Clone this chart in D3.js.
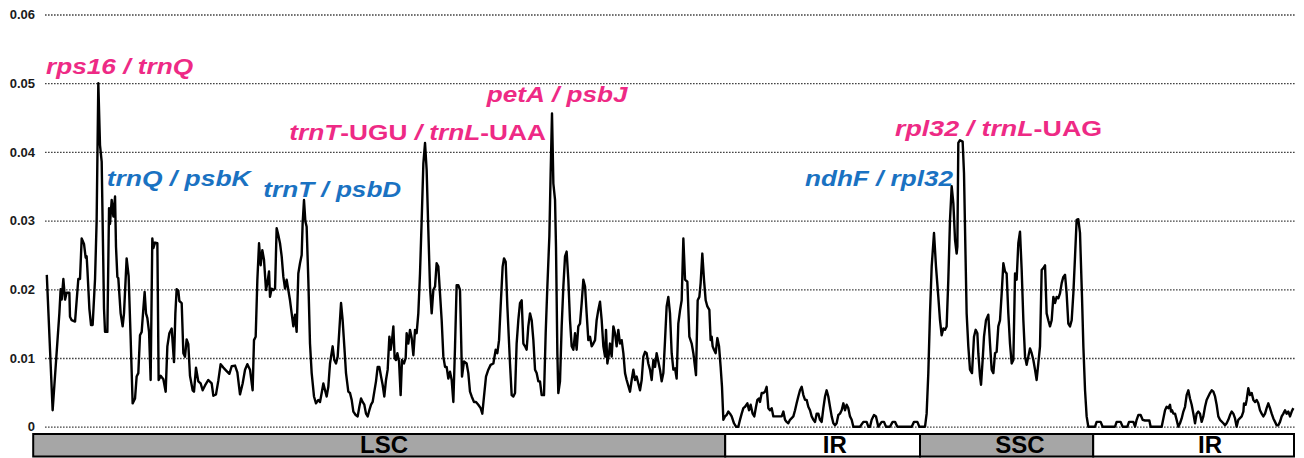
<!DOCTYPE html>
<html>
<head>
<meta charset="utf-8">
<script src="https://cdn.jsdelivr.net/npm/d3@7"></script>
<style>
  body { margin: 0; background: #fff; }
  text { font-family: "Liberation Sans", Arial, sans-serif; font-weight: bold; }
</style>
</head>
<body>
<div id="chart"></div>
<script>
// sliding window nucleotide diversity (Pi), [position kb, Pi]
var lscPi = [
  [0.1,.0221],[0.83,.0024],[1.67,.0165],[1.83,.02],[1.96,.0185],[2.17,.0215],[2.38,.0185],[2.58,.0195],[2.92,.0195],[3.0,.016],[3.21,.0155],[3.63,.0153],[4.04,.0215],[4.25,.0215],[4.46,.0274],[4.75,.0266],[4.96,.0246],[5.08,.0248],[5.17,.023],[5.42,.0172],[5.63,.0148],[5.83,.0148],[6.13,.0215],[6.33,.03],[6.54,.05],[6.75,.041],[6.96,.0386],[7.25,.0172],[7.38,.0138],[7.67,.0138],[7.88,.0318],[8.0,.0295],[8.21,.033],[8.42,.0306],[8.63,.0335],[8.75,.0262],[8.92,.0218],[9.04,.0216],[9.33,.0165],[9.58,.0146],[9.75,.0165],[10.08,.0245],[10.33,.0219],[10.58,.0129],[10.83,.0034],[11.13,.0041],[11.33,.0073],[11.54,.0078],[11.75,.0133],[11.96,.0138],[12.17,.0172],[12.33,.0196],[12.5,.0165],[12.67,.0158],[12.88,.0138],[13.08,.0068],[13.29,.0274],[13.42,.026],[13.63,.0268],[13.92,.0267],[14.08,.0068],[14.33,.0074],[14.67,.0069],[14.96,.0051],[15.17,.0117],[15.42,.0136],[15.71,.0143],[16.0,.0094],[16.17,.0165],[16.33,.02],[16.54,.0198],[16.67,.0183],[16.96,.018],[17.17,.0107],[17.38,.0102],[17.58,.0127],[17.79,.012],[18.0,.0074],[18.33,.0053],[18.5,.0051],[18.75,.0086],[19.04,.0066],[19.33,.0063],[19.58,.0053],[19.88,.006],[20.29,.0068],[20.71,.0063],[20.92,.0045],[21.25,.0047],[21.54,.0067],[21.83,.0091],[22.17,.0086],[22.58,.0081],[22.92,.0077],[23.21,.0088],[23.63,.0089],[23.92,.0079],[24.25,.0047],[24.58,.0063],[24.88,.0083],[25.17,.0091],[25.5,.0083],
  [25.83,.0053],[26.0,.0126],[26.21,.0131],[26.42,.0214],[26.63,.0267],[26.83,.0235],[27.04,.0257],[27.25,.0243],[27.5,.0199],[27.67,.0209],[27.88,.0226],[28.0,.0189],[28.21,.0201],[28.42,.0199],[28.63,.0201],[28.83,.0289],[29.04,.0279],[29.25,.0267],[29.46,.0248],[29.67,.0218],[29.88,.0201],[30.08,.0214],[30.29,.0199],[30.5,.0184],[30.71,.0165],[30.92,.0146],[31.13,.0163],[31.33,.0138],[31.54,.0223],[31.75,.0238],[31.96,.025],[32.08,.0296],[32.25,.033],[32.42,.0299],[32.58,.0291],[32.79,.0214],[33.0,.0121],[33.21,.0078],[33.5,.0044],[33.75,.0034],[34.04,.0039],[34.25,.0036],[34.46,.0049],[34.67,.0063],[34.88,.0053],[35.08,.0044],[35.29,.0058],[35.5,.0092],[35.83,.0117],[36.04,.0097],[36.25,.0092],[36.46,.0102],[36.67,.0141],[36.88,.018],[37.08,.0155],[37.29,.0117],[37.5,.0078],[37.79,.0051],[38.0,.0049],[38.21,.0039],[38.42,.0022],[38.71,.0017],[38.96,.0015],[39.17,.0029],[39.38,.0041],[39.58,.0036],[39.79,.0032],[40.0,.0019],[40.21,.0015],[40.42,.0024],[40.63,.0032],[40.83,.0036],[41.04,.0051],[41.25,.0066],[41.46,.0087],[41.67,.0087],[41.88,.0073],[42.08,.0061],[42.29,.0044],[42.5,.0068],[42.71,.0083],[42.92,.0131],[43.08,.0112],[43.25,.0126],[43.42,.0146],[43.58,.01],[43.75,.0097],[43.92,.0107],[44.13,.0095],[44.33,.0046],[44.5,.0097],[44.75,.0092],[44.96,.01],[45.08,.0136],[45.29,.0121],[45.5,.0141],[45.71,.0129],[45.92,.0104],[46.13,.0141],[46.33,.0136],[46.54,.0165],[46.75,.0223],[46.96,.0301],[47.17,.0383],[47.38,.0413],[47.58,.0374],[47.79,.0286],[48.0,.0204],[48.21,.0165],[48.42,.0199],[48.63,.0204],[48.83,.0238],[49.04,.0233],[49.25,.0194],[49.46,.0155],[49.67,.0102],[49.88,.0087],[50.08,.0087],[50.29,.007],[50.5,.008],[50.71,.0068],[50.92,.0036],[51.13,.0117],[51.33,.0206],[51.54,.0206],[51.75,.0199],
  [52.0,.0073],[52.25,.0095],[52.58,.0092],[52.79,.0078],[53.0,.0051],[53.21,.0044],[53.5,.0036],[53.75,.0036],[54.04,.0032],[54.33,.0027],[54.54,.0019],[54.75,.0044],[55.0,.0073],[55.29,.0083],[55.58,.009],[55.92,.0092],[56.21,.0112],[56.42,.0107],[56.63,.0126],[56.83,.0175],[57.08,.0233],[57.25,.0245],[57.46,.024],[57.67,.0175],[58.0,.0092],[58.21,.0046],[58.42,.0044],[58.63,.0049],[58.83,.0121],[59.04,.0155],[59.25,.018],[59.46,.0184],[59.67,.0121],[59.88,.0117],[60.08,.0112],[60.29,.0146],[60.5,.0165],[60.71,.0155],[60.92,.0126],[61.13,.0083],[61.33,.0078],[61.54,.0066],[61.75,.0066],[61.96,.0046],[62.25,.0046],[62.46,.0136],[62.67,.0204],[62.92,.0277],[63.08,.0369],[63.25,.0456],[63.42,.0354],[63.63,.033],[63.75,.0262],[63.92,.0107],[64.04,.0049],[64.25,.0066],[64.46,.0146],[64.67,.0204],[64.88,.0248],[65.08,.0255],[65.29,.0214],[65.5,.0155],[65.71,.0117],[65.92,.0112],[66.13,.0136],[66.33,.0112],[66.54,.0146],[66.75,.015],[66.96,.018],[67.17,.0214],[67.38,.0204],[67.58,.0165],[67.79,.0126],[68.0,.0131],[68.21,.0117],[68.42,.0121],[68.63,.0126],[68.83,.0155],[69.04,.017],[69.25,.0182],[69.46,.0155],[69.67,.0117],[69.88,.0102],[70.0,.0141],[70.17,.0092],[70.38,.0107],[70.5,.0121],[70.71,.0102],[70.92,.0146],[71.13,.0136],[71.33,.0117],[71.54,.0141],[71.75,.0121],[71.96,.0126],[72.17,.0107],[72.38,.0078],[72.58,.0068],[73.0,.0051],[73.21,.0068],[73.42,.0083],[73.63,.0068],[73.83,.0073],[74.04,.0063],[74.25,.0053],[74.46,.0068],[74.67,.0102],[74.88,.0109],[75.08,.0107],[75.29,.0092],[75.5,.0083],[75.71,.0068],[75.92,.0097],[76.13,.0087],[76.33,.0107],[76.54,.0095],[76.75,.0083],[76.96,.0066],[77.17,.0078],[77.38,.0126],[77.58,.0175],[77.79,.0189],[78.0,.0165],
  [78.21,.0107],[78.42,.0083],[78.63,.0085],[78.83,.007],[79.04,.015],[79.25,.0169],[79.46,.0184],[79.67,.0274],[79.88,.0214],[80.17,.0211],[80.42,.0131],[80.71,.0121],[80.92,.0107],[81.25,.0075],[81.46,.0184],[81.67,.0189],[81.83,.0209],[82.04,.0252],[82.25,.0214],[82.46,.0184],[82.67,.0175],[82.92,.017],[83.08,.0126],[83.21,.0131],[83.33,.0117],[83.5,.0112],[83.71,.0107],[83.92,.0129],[84.13,.0117],[84.33,.0087],[84.5,.0058],[84.67,.001]
];
var irAPi = [
  [84.88,.0015],[85.08,.0017],[85.29,.0022],[85.5,.0019],[85.71,.0015],[86.0,.0005],[86.25,0],[86.54,0],[86.75,.001],[86.96,.0019],[87.17,.0027],[87.38,.0029],[87.67,.0034],[87.88,.0024],[88.08,.0032],[88.33,.0019],[88.54,.0015],[88.75,.0029],[88.92,.0039],[89.13,.0041],[89.25,.0036],[89.46,.0049],[89.67,.0049],[89.88,.0051],[90.08,.0058],[90.29,.0027],[90.5,.0024],[90.71,.0027],[90.92,.0015],[91.54,.0015],[91.96,.0015],[92.17,.0022],[92.38,.001],[92.58,.0007],[92.79,.0005],[93.0,.001],[93.42,.0015],[93.63,.0024],[93.83,.0034],[94.04,.0044],[94.25,.0053],[94.46,.0058],[94.67,.0046],[94.88,.0039],[95.08,.0039],[95.29,.0029],[95.5,.0024],[95.71,.0015],[95.92,.001],[96.13,.0007],[96.33,.0019],[96.54,.0019],[96.75,.001],[96.96,.0007],[97.17,.0027],[97.38,.0044],[97.58,.0053],[97.79,.0044],[98.0,.0029],[98.21,.0015],[98.42,.0005],[98.63,.0002],[98.83,.0005],[99.04,.0017],[99.25,.0019],[99.46,.0024],[99.67,.0034],[99.88,.0024],[100.08,.0032],[100.29,.0027],[100.5,.0015],[100.71,.001],[100.92,0],[101.75,0],[102.17,.0007],[102.58,.0007],[102.79,0],[103.0,0],[103.21,.001],[103.5,.0017],[103.75,.0015],[104.04,0],[104.46,.0007],[104.75,.0007],[105.0,0],[105.5,0],[105.83,.0007],[106.13,.0007],[106.42,0],[108.21,0],[108.5,.0007],[108.92,.0007],[109.17,0],[109.88,0]
];
var sscPi = [
  [110.08,.0019],[110.29,.0078],[110.5,.0165],[110.71,.0233],[111.0,.0282],[111.25,.0233],[111.54,.0189],[111.75,.0155],[111.96,.0133],[112.17,.0143],[112.38,.0141],[112.58,.0146],[112.79,.0214],[113.0,.0301],[113.21,.035],[113.42,.0325],[113.63,.0272],[113.83,.0252],[113.92,.0262],[114.04,.0413],[114.25,.0417],[114.58,.0415],[114.75,.0369],[114.92,.0262],[115.08,.0165],[115.29,.0117],[115.5,.0083],[115.75,.0078],[116.0,.0131],[116.21,.0141],[116.42,.0136],[116.54,.0107],[116.75,.0073],[116.88,.0061],[117.08,.0097],[117.25,.0131],[117.5,.0155],[117.79,.0163],[118.0,.0121],[118.21,.0083],[118.42,.0078],[118.63,.0107],[118.83,.0109],[119.04,.0146],[119.25,.0155],[119.46,.0194],[119.67,.0238],[119.88,.0226],[120.08,.0223],[120.29,.0165],[120.5,.0121],[120.71,.0092],[120.92,.0097],[121.13,.0223],[121.33,.0214],[121.54,.0267],[121.75,.0284],[121.96,.0228],[122.17,.0155],[122.38,.0102],[122.58,.009],[122.79,.0102],[123.0,.0114],[123.21,.0107],[123.42,.0097],[123.63,.0083],[123.83,.0068],[124.04,.0092],[124.25,.0117],[124.46,.0228],[124.67,.0231],[124.88,.0235],[125.08,.0165],[125.29,.0155],[125.5,.0146],[125.71,.0155],[125.92,.0189],[126.13,.018],[126.33,.0189],[126.54,.0187],[126.75,.0194],[126.96,.0209],[127.17,.0218],[127.38,.0221],[127.58,.0194],[127.79,.015],[128.0,.0146],[128.21,.0155],[128.42,.0194],[128.63,.0248],[128.83,.0301],[129.04,.0302],[129.25,.0282],[129.33,.0252],[129.5,.0189],[129.67,.0117],[129.88,.0053],[130.08,.0015]
];
var irBPi = [
  [130.29,0],[131.13,0],[131.33,.0007],[131.83,.0007],[132.08,0],[133.63,0],[133.83,.0007],[134.33,.0007],[134.58,0],[135.17,0],[135.38,.0007],[135.92,.0007],[136.13,0],[136.33,.001],[136.54,.0017],[136.83,.0017],[137.08,.001],[137.38,.0009],[137.92,.0009],[138.08,0],[139.46,0],[139.67,.0012],[139.88,.0024],[140.08,.0029],[140.29,.0027],[140.5,.0032],[140.63,.0022],[140.75,.0024],[140.92,.0019],[141.13,.0019],[141.33,.001],[141.54,0],[141.75,.0005],[141.96,.0012],[142.17,.0022],[142.38,.0029],[142.58,.0046],[142.79,.0053],[143.0,.0041],[143.21,.0032],[143.42,.0019],[143.63,.0005],[143.83,.0019],[144.04,.0022],[144.25,.0019],[144.46,.0007],[144.67,.0015],[144.88,.0029],[145.08,.0039],[145.29,.0044],[145.5,.0049],[145.71,.0053],[145.92,.0051],[146.13,.0044],[146.33,.0032],[146.54,.0015],[146.75,.001],[147.17,.0005],[147.38,.0002],[147.58,.0005],[147.79,.001],[148.0,.0017],[148.21,.0022],[148.42,.0019],[148.63,.0012],[148.83,0],[149.04,.001],[149.46,.0015],[149.67,.0022],[149.75,.0034],[149.96,.0032],[150.08,.0039],[150.29,.0056],[150.5,.0046],[150.71,.0049],[150.92,.0039],[151.13,.0036],[151.33,.0039],[151.54,.0034],[151.75,.0024],[151.96,.0019],[152.17,.0015],[152.38,.0019],[152.58,.0027],[152.79,.0034],[153.0,.0027],[153.21,.0019],[153.42,.0012],[153.63,.0007],[153.83,.0002],[154.04,.0002],[154.25,.0007],[154.46,.0015],[154.67,.0019],[154.88,.0024],[155.08,.0019],[155.29,.0022],[155.5,.0015],[155.71,.0022],[155.92,.0027]
];

// y ticks
var yTicks = [0, 0.01, 0.02, 0.03, 0.04, 0.05, 0.06];
var yTickLabels = ["0", "0.01", "0.02", "0.03", "0.04", "0.05", "0.06"];

// genome regions (kb)
var regionNames = ["LSC", "IR", "SSC", "IR"];
var regionBounds = [-1.6, 84.9, 109.25, 130.9, 156];
var regionLabelPos = [42.25, 98.6, 121.75, 145.5];

// hotspot labels: text parts [text, italic], anchor [kb, Pi], width in kb
var hotspots = [
  {parts: [["rps16", 1], [" / ", 1], ["trnQ", 1]], at: [0, .0513], span: 18.4, hot: true},
  {parts: [["trnQ", 1], [" / ", 1], ["psbK", 1]], at: [7.59, .0350], span: 18.0, hot: false},
  {parts: [["trnT", 1], [" / ", 1], ["psbD", 1]], at: [27.16, .0335], span: 17.25, hot: false},
  {parts: [["trnT", 1], ["-UGU", 0], [" / ", 1], ["trnL", 1], ["-UAA", 0]], at: [30.41, .0417], span: 32.1, hot: true},
  {parts: [["petA", 1], [" / ", 1], ["psbJ", 1]], at: [55.09, .0473], span: 17.5, hot: true},
  {parts: [["ndhF", 1], [" / ", 1], ["rpl32", 1]], at: [94.88, .0350], span: 18.5, hot: false},
  {parts: [["rpl32", 1], [" / ", 1], ["trnL", 1], ["-UAG", 0]], at: [106.13, .0423], span: 25.9, hot: true}
];

var allPi = lscPi.concat(irAPi, sscPi, irBPi);

var svg = d3.select("#chart")
  .append("svg")
    .attr("width", 1304)
    .attr("height", 458);

var x = d3.scaleLinear().domain([0, 156]).range([46, 1294]);
var y = d3.scaleLinear().domain([0, 0.06]).range([426.7, 14.5]);

// gridlines and y labels
svg.append("g")
  .attr("transform", "translate(45,0)")
  .call(d3.axisLeft(y)
    .tickValues(yTicks)
    .tickFormat(function(d, i) { return yTickLabels[i]; })
    .tickSize(-1250)
    .tickPadding(10))
  .call(function(g) { g.select(".domain").remove(); })
  .call(function(g) {
    g.selectAll(".tick line")
      .attr("stroke", "#444")
      .attr("stroke-width", 1.3)
      .attr("stroke-dasharray", "1.6,1.4");
  })
  .call(function(g) {
    g.attr("font-family", null).attr("font-size", null);
    g.selectAll(".tick text")
      .attr("font-size", 13)
      .attr("fill", "#1a1a1a");
  });

// Pi line
var line = d3.line()
  .x(function(d) { return x(d[0]); })
  .y(function(d) { return y(d[1]); });

svg.append("path")
  .datum(allPi)
  .attr("d", line)
  .attr("fill", "none")
  .attr("stroke", "#000")
  .attr("stroke-width", 2.4)
  .attr("stroke-linejoin", "round");

// region bar
svg.selectAll("rect.region")
  .data(regionNames)
  .enter()
  .append("rect")
    .attr("class", "region")
    .attr("x", function(d, i) { return x(regionBounds[i]); })
    .attr("width", function(d, i) { return x(regionBounds[i + 1]) - x(regionBounds[i]); })
    .attr("y", 434)
    .attr("height", 22.5)
    .attr("fill", function(d) { return d === "IR" ? "#fff" : "#a6a6a6"; })
    .attr("stroke", "#000")
    .attr("stroke-width", 2);

svg.selectAll("text.region")
  .data(regionNames)
  .enter()
  .append("text")
    .attr("class", "region")
    .attr("x", function(d, i) { return x(regionLabelPos[i]); })
    .attr("y", 452.5)
    .attr("text-anchor", "middle")
    .attr("font-size", 24)
    .attr("fill", "#000")
    .text(function(d) { return d; });

// hotspot labels
hotspots.forEach(function(h) {
  var t = svg.append("text")
    .attr("font-size", 22)
    .attr("fill", h.hot ? "#ee2a85" : "#1a72c2");
  h.parts.forEach(function(p) {
    t.append("tspan")
      .attr("font-style", p[1] ? "italic" : "normal")
      .text(p[0]);
  });
  var w = t.node().getComputedTextLength();
  var target = x(h.at[0] + h.span) - x(h.at[0]);
  t.attr("transform", "translate(" + x(h.at[0]) + "," + y(h.at[1]) + ") scale(" + (target / w) + ",1)");
});
</script>
</body>
</html>
